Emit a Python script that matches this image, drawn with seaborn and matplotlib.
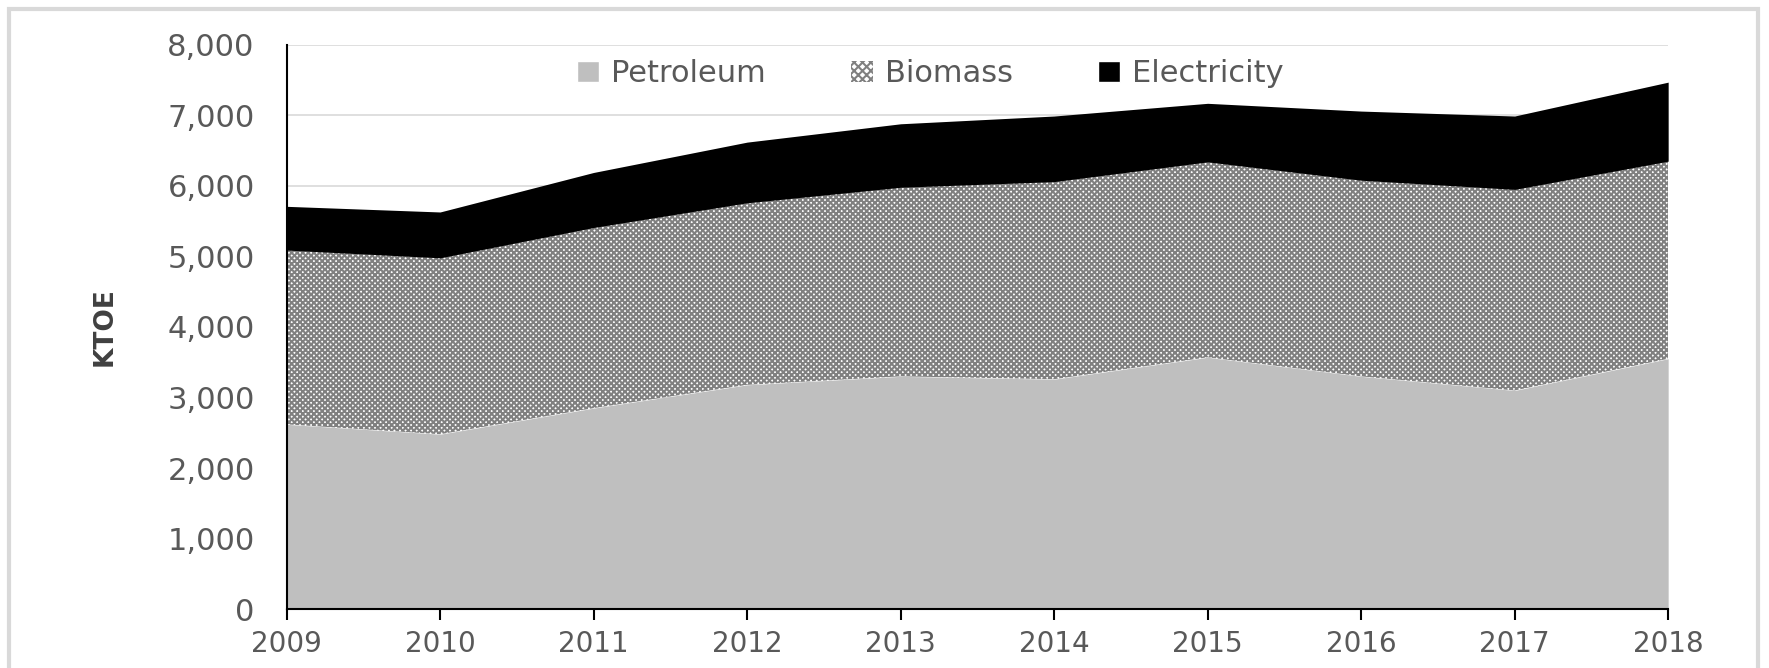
import numpy as np
import seaborn as sns
import matplotlib.pyplot as plt
from matplotlib.patches import Patch, Rectangle

years = [2009, 2010, 2011, 2012, 2013, 2014, 2015, 2016, 2017, 2018]
petroleum = [2620, 2480, 2850, 3180, 3300, 3260, 3570, 3300, 3100, 3550]
biomass = [2470, 2500, 2560, 2580, 2680, 2800, 2770, 2780, 2850, 2800]
electricity = [620, 650, 780, 860, 900, 930, 830, 980, 1040, 1120]
series_names = ['Petroleum', 'Biomass', 'Electricity']

sns.set_theme(style='white')
plt.rcParams['font.family'] = ['DejaVu Sans']
plt.rcParams['hatch.linewidth'] = 1.5

fig = plt.figure(figsize=(17.69, 6.68), dpi=100)
ax = fig.add_axes([0.162, 0.088, 0.781, 0.845])

polys = ax.stackplot(years, petroleum, biomass, electricity,
                     colors=['#bfbfbf', 'white', 'black'], linewidth=0)
polys[1].set_hatch('xxxxxx')
polys[1].set_edgecolor('#808080')
polys[1].set_linewidth(0)

ax.set_xlim(2009, 2018)
ax.set_ylim(0, 8000)
ax.set_xticks(years)
ax.set_yticks(range(0, 8001, 1000))
ax.set_yticklabels([f'{v:,}' for v in range(0, 8001, 1000)])
ax.yaxis.grid(True, color='#d9d9d9', linewidth=1.2)
ax.set_axisbelow(True)
sns.despine(ax=ax)
for s in ['left', 'bottom']:
    ax.spines[s].set_color('black')
    ax.spines[s].set_linewidth(1.5)
ax.tick_params(axis='x', bottom=True, length=8, width=1.5, color='black',
               labelsize=20, labelcolor='#595959', pad=7)
ax.tick_params(axis='y', left=False, labelsize=22, labelcolor='#595959', pad=17)
ax.set_ylabel('KTOE', fontsize=19, fontweight='bold', color='#404040', labelpad=36)

handles = [Patch(facecolor='#bfbfbf'),
           Patch(facecolor='white', edgecolor='#808080', hatch='xxxx', linewidth=0),
           Patch(facecolor='black')]
fig.legend(handles, series_names, loc='center', bbox_to_anchor=(0.526, 0.89),
           ncol=3, frameon=False, fontsize=22, labelcolor='#595959',
           handlelength=0.7, handleheight=0.7, handletextpad=0.4, columnspacing=2.8)

fig.patches.append(Rectangle((0.005, -0.02), 0.989, 1.007, transform=fig.transFigure,
                             fill=False, edgecolor='#d9d9d9', linewidth=3))

fig.savefig('out.png', dpi=100)
